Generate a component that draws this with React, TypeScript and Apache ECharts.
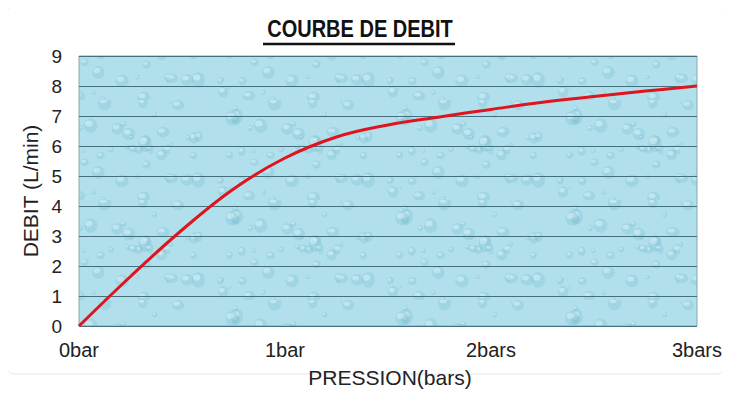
import React, { useEffect, useRef } from "react";
import * as echarts from "echarts";

const pressure = [0, 0.25, 0.5, 0.75, 1.0, 1.25, 1.5, 1.75, 2.0, 2.25, 2.5, 2.75, 3.0];
const debit = [0, 1.65, 3.2, 4.57, 5.6, 6.3, 6.7, 6.97, 7.22, 7.46, 7.65, 7.83, 8.0];
const xTickLabels = ["0bar", "1bar", "2bars", "3bars"];
const titleText = "COURBE DE DEBIT";
const xName = "PRESSION(bars)";
const yName = "DEBIT (L/min)";

const FONT = "Liberation Sans, Arial, sans-serif";

function makeTexture(): HTMLCanvasElement {
  const c = document.createElement("canvas");
  c.width = 170;
  c.height = 100;
  const ctx = c.getContext("2d")!;
  ctx.fillStyle = "#b1e0ec";
  ctx.fillRect(0, 0, c.width, c.height);
  let s = 11;
  const rnd = () => {
    s = (s * 16807) % 2147483647;
    return (s - 1) / 2147483646;
  };
  for (let i = 0; i < 55; i++) {
    const x = rnd() * c.width;
    const y = rnd() * c.height;
    const r = 1.5 + rnd() * 5.5;
    const ry = r * (0.8 + rnd() * 0.5);
    ctx.beginPath();
    ctx.ellipse(x, y, r, ry, 0, 0, Math.PI * 2);
    ctx.fillStyle = "rgba(110,185,205,0.25)";
    ctx.fill();
    ctx.beginPath();
    ctx.ellipse(x - r * 0.25, y - ry * 0.3, r * 0.55, ry * 0.4, 0, 0, Math.PI * 2);
    ctx.fillStyle = "rgba(230,248,252,0.45)";
    ctx.fill();
  }
  return c;
}

export default function App() {
  const ref = useRef<HTMLDivElement>(null);
  useEffect(() => {
    if (!ref.current) return;
    const chart = echarts.init(ref.current, null, { renderer: "svg" });
    const tex = makeTexture();
    chart.setOption({
      animation: false,
      backgroundColor: "#ffffff",
      textStyle: { fontFamily: FONT },
      graphic: [
        {
          type: "rect",
          shape: { x: 6, y: 6, width: 719, height: 368, r: 8 },
          style: { fill: "none", stroke: "#e3e8ea", lineWidth: 1 },
          silent: true,
          z: -10,
        },
        {
          type: "text",
          x: 360,
          y: 29,
          scaleX: 0.87,
          style: {
            text: titleText,
            font: "bold 23px " + FONT,
            fill: "#111",
            align: "center",
            verticalAlign: "middle",
          },
          silent: true,
        },
        {
          type: "line",
          shape: { x1: 263, y1: 44, x2: 455, y2: 44 },
          style: { stroke: "#111", lineWidth: 2.5 },
          silent: true,
        },
      ],
      grid: {
        left: 79,
        right: 34,
        top: 56,
        bottom: 80,
        show: true,
        backgroundColor: { image: tex, repeat: "repeat" },
        borderColor: "#8aa4ad",
        borderWidth: 1,
      },
      xAxis: {
        type: "value",
        min: 0,
        max: 3,
        interval: 1,
        name: xName,
        nameLocation: "middle",
        nameGap: 41,
        nameTextStyle: { fontSize: 21, color: "#222", padding: [0, 0, 0, 4] },
        axisLine: { show: false },
        axisTick: { show: false },
        splitLine: { show: false },
        axisLabel: {
          fontSize: 20,
          color: "#222",
          margin: 14,
          formatter: (v: number) => xTickLabels[Math.round(v)] ?? "",
        },
      },
      yAxis: {
        type: "value",
        min: 0,
        max: 9,
        interval: 1,
        name: yName,
        nameLocation: "middle",
        nameGap: 34,
        nameTextStyle: { fontSize: 21, color: "#222" },
        axisLine: { show: false },
        axisTick: { show: false },
        splitLine: { show: true, lineStyle: { color: "#44707e", width: 1 } },
        axisLabel: { fontSize: 19, color: "#222", margin: 17 },
      },
      series: [
        {
          type: "line",
          data: pressure.map((p, i) => [p, debit[i]]),
          smooth: 0.4,
          showSymbol: false,
          lineStyle: { color: "#e0141e", width: 3 },
        },
      ],
    });
    return () => chart.dispose();
  }, []);
  return <div ref={ref} style={{ width: 731, height: 406, marginLeft: -8, marginTop: -8 }} />;
}
